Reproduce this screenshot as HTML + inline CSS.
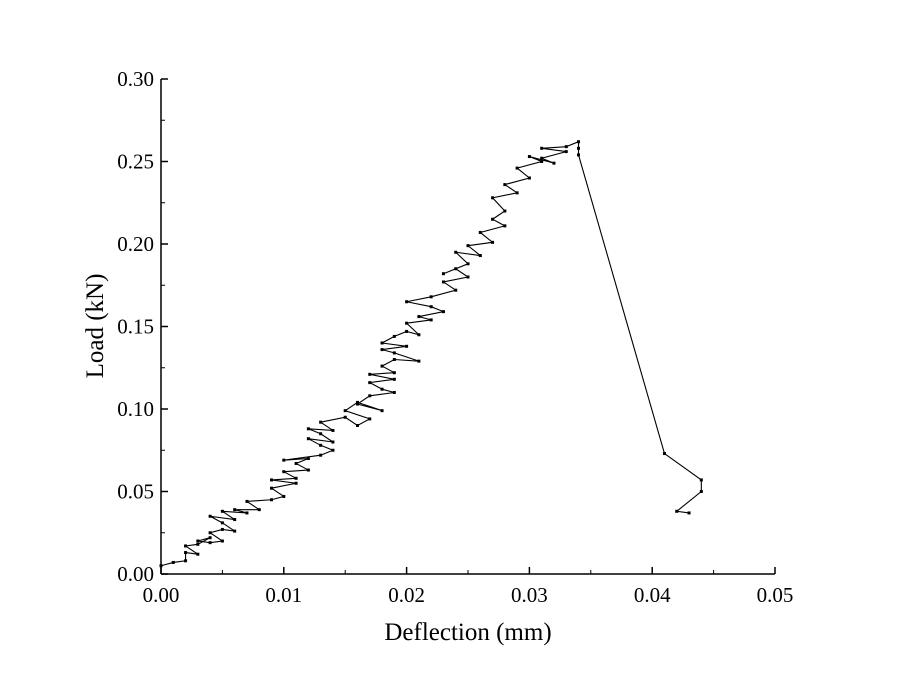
<!DOCTYPE html>
<html><head><meta charset="utf-8"><style>
body{margin:0;background:#fff}
svg text{font-family:"Liberation Serif",serif;fill:#000}
</style></head><body>
<svg id="chart" width="900" height="688" xmlns="http://www.w3.org/2000/svg">
<g id="axes"></g><g id="series"></g>
<text x="468" y="640" font-size="25" text-anchor="middle">Deflection (mm)</text>
<text transform="translate(103,326) rotate(-90)" font-size="25" text-anchor="middle">Load (kN)</text>
</svg>
<script>
const xTicks=[0,0.01,0.02,0.03,0.04,0.05];
const xTickLabels=["0.00","0.01","0.02","0.03","0.04","0.05"];
const yTicks=[0,0.05,0.10,0.15,0.20,0.25,0.30];
const yTickLabels=["0.00","0.05","0.10","0.15","0.20","0.25","0.30"];
const deflection=[0,0.001,0.002,0.002,0.003,0.002,0.003,0.004,0.003,0.004,0.005,0.004,0.005,0.006,0.005,0.004,0.006,0.005,0.007,0.006,0.008,0.007,0.009,0.010,0.009,0.011,0.009,0.011,0.010,0.012,0.011,0.012,0.010,0.013,0.014,0.013,0.012,0.014,0.013,0.012,0.014,0.013,0.015,0.016,0.017,0.015,0.016,0.018,0.016,0.017,0.019,0.018,0.017,0.019,0.017,0.019,0.018,0.019,0.021,0.019,0.018,0.020,0.018,0.019,0.020,0.021,0.020,0.022,0.021,0.023,0.022,0.020,0.022,0.024,0.023,0.025,0.024,0.023,0.025,0.024,0.026,0.025,0.027,0.026,0.028,0.027,0.028,0.027,0.029,0.028,0.030,0.029,0.031,0.030,0.032,0.031,0.033,0.031,0.033,0.034,0.034,0.034,0.041,0.044,0.044,0.042,0.043];
const load=[0.005,0.007,0.008,0.013,0.012,0.017,0.018,0.022,0.020,0.019,0.020,0.025,0.027,0.026,0.031,0.035,0.033,0.038,0.037,0.039,0.039,0.044,0.045,0.047,0.052,0.055,0.057,0.058,0.062,0.063,0.067,0.070,0.069,0.072,0.075,0.078,0.082,0.080,0.085,0.088,0.087,0.092,0.095,0.090,0.094,0.099,0.104,0.099,0.103,0.108,0.110,0.112,0.116,0.118,0.121,0.122,0.126,0.130,0.129,0.134,0.136,0.138,0.140,0.144,0.147,0.145,0.152,0.154,0.156,0.159,0.162,0.165,0.168,0.172,0.177,0.180,0.185,0.182,0.188,0.195,0.193,0.199,0.201,0.207,0.211,0.215,0.220,0.228,0.231,0.236,0.240,0.246,0.250,0.253,0.249,0.252,0.256,0.258,0.259,0.262,0.258,0.254,0.073,0.057,0.050,0.038,0.037];
const X0=161,X1=775,Y0=574,Y1=79;
const sx=v=>X0+(v/0.05)*(X1-X0);
const sy=v=>Y0-(v/0.30)*(Y0-Y1);
const NS="http://www.w3.org/2000/svg";
function mk(t,a,p){const e=document.createElementNS(NS,t);for(const k in a)e.setAttribute(k,a[k]);p.appendChild(e);return e;}
const ax=document.getElementById('axes'),se=document.getElementById('series');
let l=mk('line',{x1:X0,y1:Y0,x2:X1,y2:Y0,stroke:'#000','stroke-width':1.5},ax);


l=mk('line',{x1:X0,y1:Y0,x2:X0,y2:Y1,stroke:'#000','stroke-width':1.5},ax);


xTicks.forEach((v,i)=>{const x=sx(v);
mk('line',{x1:x,y1:Y0,x2:x,y2:Y0-7,stroke:'#000','stroke-width':1.5},ax);
if(i<xTicks.length-1){const xm=sx(v+0.005);mk('line',{x1:xm,y1:Y0,x2:xm,y2:Y0-4,stroke:'#000','stroke-width':1},ax);}
const t=mk('text',{x:x,y:Y0+28,'font-size':21,'text-anchor':'middle'},ax);t.textContent=xTickLabels[i];

});
yTicks.forEach((v,i)=>{const y=sy(v);
mk('line',{x1:X0,y1:y,x2:X0+7,y2:y,stroke:'#000','stroke-width':1.5},ax);
if(i<yTicks.length-1){const ym=sy(v+0.025);mk('line',{x1:X0,y1:ym,x2:X0+4,y2:ym,stroke:'#000','stroke-width':1},ax);}
const t=mk('text',{x:X0-7,y:y+7,'font-size':21,'text-anchor':'end'},ax);t.textContent=yTickLabels[i];

});
const pts=deflection.map((d,i)=>sx(d)+','+sy(load[i])).join(' ');
const pl=mk('polyline',{points:pts,fill:'none',stroke:'#000','stroke-width':1.1},se);


deflection.forEach((d,i)=>{const r=mk('rect',{x:sx(d)-1.5,y:sy(load[i])-1.5,width:3,height:3,fill:'#000'},se);

});
</script>
</body></html>
